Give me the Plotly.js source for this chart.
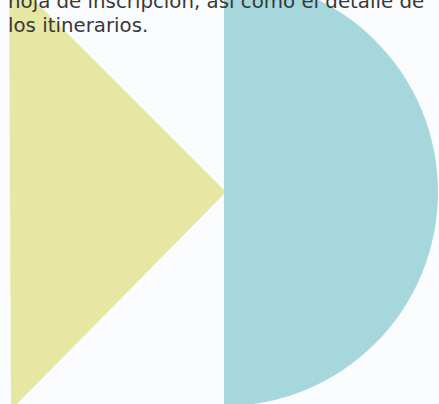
<!DOCTYPE html>
<html>
<head>
<meta charset="utf-8">
<script src="https://cdn.plot.ly/plotly-3.0.1.min.js"></script>
<style>
html,body{margin:0;padding:0;overflow:hidden;background:#fbfcfe;width:439px;height:404px;}
#chart{position:absolute;left:0;top:-24px;width:439px;height:450px;}
</style>
</head>
<body>
<div id="chart"></div>
<script>
// Triangle (yellow) vertices in page pixel units
const triX = [9, 226, 11];
const triY = [-25, 192, 410];
// Half disc (blue) as a two-slice pie: visible half, empty half
const pieLabels = ['visible', 'empty'];
const pieValues = [1, 1];
const pieColors = ['#a5d7dc', 'rgba(0,0,0,0)'];
// Text lines
const textLines = ['hoja de inscripción, así como el detalle de', 'los itinerarios.'];

const W = 439, H = 450, OFF = 24;
const cx = 224, cy = 192, r = 214;

const data = [
  {
    type: 'scatter', mode: 'lines', x: triX, y: triY,
    fill: 'toself', fillcolor: '#e6e7a3', line: {width: 0, color: '#e6e7a3'},
    hoverinfo: 'skip', showlegend: false
  },
  {
    type: 'pie', labels: pieLabels, values: pieValues, sort: false,
    direction: 'clockwise', rotation: 0, hole: 0,
    marker: {colors: pieColors, line: {width: 0}},
    textinfo: 'none', hoverinfo: 'skip', showlegend: false,
    domain: {
      x: [(cx - r) / W, (cx + r) / W],
      y: [(H - (cy + OFF) - r) / H, (H - (cy + OFF) + r) / H]
    }
  }
];

const font = {family: 'DejaVu Sans, sans-serif', size: 19.8, color: '#383838'};
const layout = {
  width: W, height: H,
  margin: {l: 0, r: 0, t: 0, b: 0, pad: 0},
  paper_bgcolor: '#fbfcfe', plot_bgcolor: 'rgba(0,0,0,0)',
  showlegend: false,
  xaxis: {range: [0, W], visible: false, fixedrange: true},
  yaxis: {range: [H - OFF, -OFF], visible: false, fixedrange: true},
  annotations: [
    {
      xref: 'x', yref: 'y', x: 6, y: 15, xanchor: 'left', yanchor: 'bottom',
      text: textLines[0], showarrow: false, font: font
    },
    {
      xref: 'x', yref: 'y', x: 6, y: 39, xanchor: 'left', yanchor: 'bottom',
      text: textLines[1], showarrow: false, font: font
    }
  ]
};

Plotly.newPlot('chart', data, layout, {staticPlot: true, displayModeBar: false});
</script>
</body>
</html>
